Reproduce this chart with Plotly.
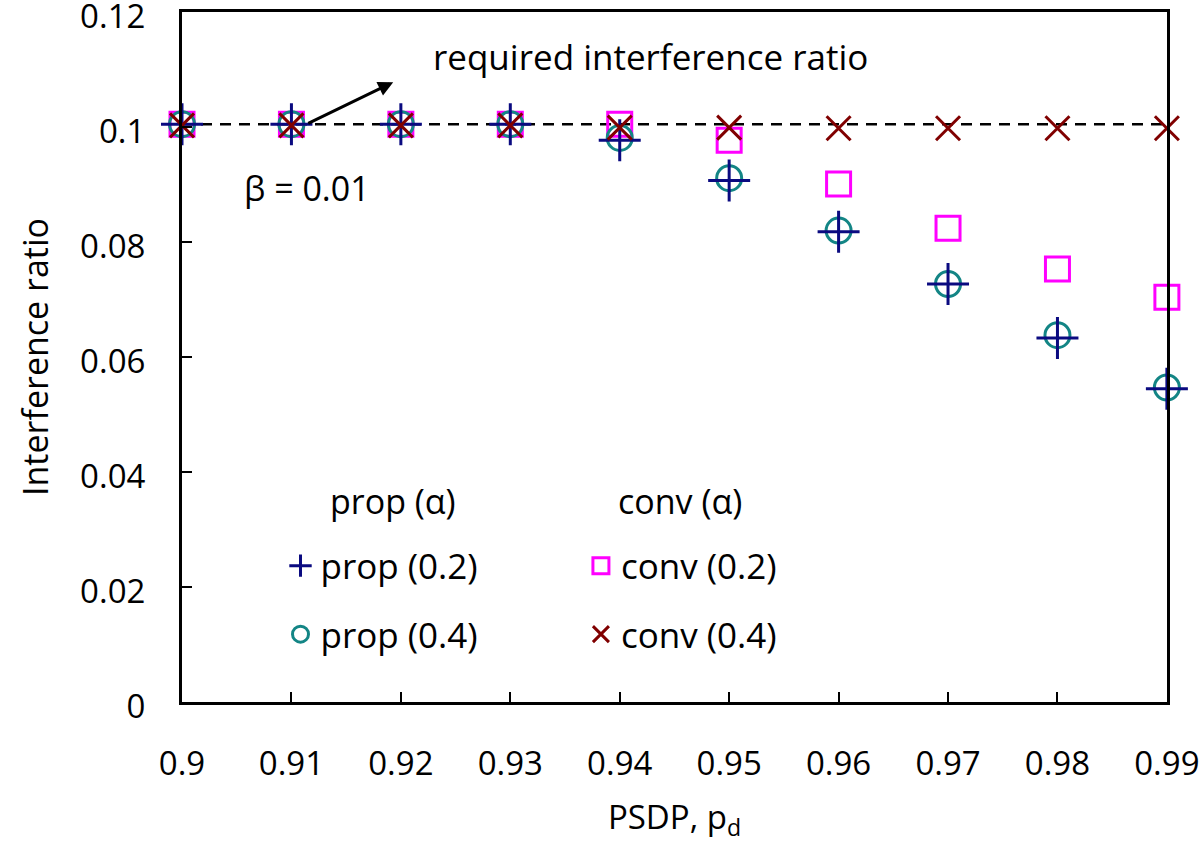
import plotly.graph_objects as go

pd_vals = [0.90, 0.91, 0.92, 0.93, 0.94, 0.95, 0.96, 0.97, 0.98, 0.99]
prop_02 = [0.1005, 0.1005, 0.1005, 0.1005, 0.0977, 0.0907, 0.0818, 0.0727, 0.0633, 0.0545]
prop_04 = [0.1005, 0.1005, 0.1005, 0.1005, 0.0981, 0.0911, 0.0820, 0.0727, 0.0638, 0.0547]
conv_02 = [0.1005, 0.1005, 0.1005, 0.1005, 0.1005, 0.0977, 0.0901, 0.0824, 0.0753, 0.0704]
conv_04 = [0.1003, 0.1003, 0.1003, 0.1003, 0.0999, 0.0999, 0.0998, 0.0998, 0.0998, 0.0998]
required_ratio = 0.1005
x_ticks = [0.90, 0.91, 0.92, 0.93, 0.94, 0.95, 0.96, 0.97, 0.98, 0.99]
x_tick_text = ["0.9", "0.91", "0.92", "0.93", "0.94", "0.95", "0.96", "0.97", "0.98", "0.99"]
y_ticks = [0, 0.02, 0.04, 0.06, 0.08, 0.1, 0.12]
y_tick_text = ["0", "0.02", "0.04", "0.06", "0.08", "0.1", "0.12"]

FONT = "Open Sans"
fig = go.Figure()

fig.add_trace(go.Scatter(
    x=pd_vals, y=conv_02, mode="markers", name="conv (0.2)",
    legend="legend2", legendgroup="c1", legendrank=1,
    marker=dict(symbol="square-open", size=24, color="#ff00ff", line=dict(width=3, color="#ff00ff")),
    cliponaxis=False))
fig.add_trace(go.Scatter(
    x=pd_vals, y=prop_04, mode="markers", name="prop (0.4)",
    legend="legend", legendgroup="p2", legendrank=2,
    marker=dict(symbol="circle-open", size=25, color="#138585", line=dict(width=3, color="#138585")),
    cliponaxis=False))
fig.add_trace(go.Scatter(
    x=pd_vals, y=prop_02, mode="markers", name="prop (0.2)",
    legend="legend", legendgroup="p1", legendrank=1,
    marker=dict(symbol="cross-thin-open", size=30, color="#0a0a80", line=dict(width=3, color="#0a0a80")),
    cliponaxis=False))
fig.add_trace(go.Scatter(
    x=pd_vals, y=conv_04, mode="markers", name="conv (0.4)",
    legend="legend2", legendgroup="c2", legendrank=2,
    marker=dict(symbol="x-thin-open", size=24, color="#800000", line=dict(width=3, color="#800000")),
    cliponaxis=False))

fig.add_shape(type="line", xref="paper", x0=0, x1=1, yref="y", y0=required_ratio, y1=required_ratio,
              line=dict(color="black", width=2.5, dash="11px,8px"), layer="below")

fig.add_annotation(x=0.9193, y=0.1078, ax=0.9114, ay=required_ratio, xref="x", yref="y",
                   axref="x", ayref="y", text="", showarrow=True, arrowhead=2, arrowsize=1,
                   arrowwidth=3, arrowcolor="black")
fig.add_annotation(x=0.9428, y=0.1122, xref="x", yref="y", text="required interference ratio",
                   showarrow=False, font=dict(family=FONT, size=35, color="black"))
fig.add_annotation(x=0.9114, y=0.0894, xref="x", yref="y", text="β = 0.01",
                   showarrow=False, font=dict(family=FONT, size=34, color="black"))
# legend column headers
fig.add_annotation(x=0.9193, y=0.035, xref="x", yref="y", text="prop (α)",
                   showarrow=False, font=dict(family=FONT, size=34, color="black"))
fig.add_annotation(x=0.9455, y=0.035, xref="x", yref="y", text="conv (α)",
                   showarrow=False, font=dict(family=FONT, size=34, color="black"))

legend_common = dict(
    bgcolor="rgba(0,0,0,0)", borderwidth=0, traceorder="grouped", tracegroupgap=20,
    font=dict(family=FONT, size=35, color="black"), xanchor="left", yanchor="top",
    itemsizing="trace",
)
fig.update_layout(
    width=1200, height=843,
    margin=dict(l=182, r=33, t=12, b=141),
    paper_bgcolor="white", plot_bgcolor="white",
    font=dict(family=FONT, size=34, color="black"),
    legend=dict(x=0.1, y=0.24, **legend_common),
    legend2=dict(x=0.405, y=0.24, **legend_common),
    xaxis=dict(range=[0.9, 0.99001], tickvals=x_ticks, ticktext=x_tick_text,
               ticks="inside", ticklen=10, tickwidth=2, tickcolor="black",
               showline=True, linewidth=3, linecolor="black", mirror=True,
               showgrid=False, zeroline=False, ticklabelstandoff=30, automargin=False,
               ticklabeloverflow="allow",
               tickfont=dict(family=FONT, size=33),
               title=dict(text="PSDP, p<sub>d</sub>", font=dict(family=FONT, size=33), standoff=36)),
    yaxis=dict(range=[0, 0.12001], tickvals=y_ticks, ticktext=y_tick_text,
               ticks="inside", ticklen=10, tickwidth=2, tickcolor="black",
               showline=True, linewidth=3, linecolor="black", mirror=True,
               showgrid=False, zeroline=False, ticklabelstandoff=27, automargin=False,
               ticklabeloverflow="allow", ticklabelshift=4,
               tickfont=dict(family=FONT, size=33),
               title=dict(text="Interference ratio", font=dict(family=FONT, size=34), standoff=22)),
)

fig.write_html("out.html", config={"displayModeBar": False},
               post_script="document.body.style.margin='0';")
